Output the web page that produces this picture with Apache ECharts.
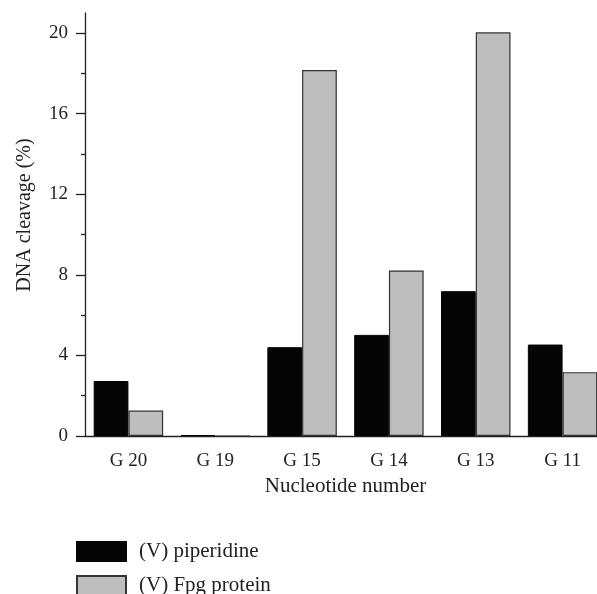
<!DOCTYPE html>
<html>
<head>
<meta charset="utf-8">
<script src="https://cdn.jsdelivr.net/npm/echarts@6/dist/echarts.min.js"></script>
<style>
  html, body { margin: 0; padding: 0; background: #fff; overflow: hidden; }
  /* the original figure is cropped on the right, so the canvas runs past the window */
  #main { width: 612px; height: 594px; }
</style>
</head>
<body>
<div id="main"></div>
<script>
// values
var categories = ['G 20', 'G 19', 'G 15', 'G 14', 'G 13', 'G 11'];
var piperidine = [2.73, 0.05, 4.41, 5.02, 7.19, 4.54];
var fpg = [1.26, 0, 18.17, 8.22, 20.04, 3.17];
var yTicks = [0, 4, 8, 12, 16, 20];
var yMinorTicks = [2, 6, 10, 14, 18];

var serif = '"Liberation Serif", "DejaVu Serif", serif';
var ink = '#222';

var myChart = echarts.init(document.getElementById('main'));

function legendAt(top, name) {
    return {
        orient: 'vertical',
        left: 76,
        top: top,
        padding: 0,
        itemWidth: 49,
        itemHeight: 19,
        icon: 'rect',
        textStyle: { fontFamily: serif, fontSize: 21, color: ink, padding: [0, 0, 0, 8], lineHeight: 19 },
        data: [name]
    };
}

var option = {
    animation: false,
    textStyle: { fontFamily: serif, color: ink },
    grid: { left: 85, width: 521, top: 13, height: 423 },
    legend: [
        legendAt(541, '(V) piperidine'),
        legendAt(575, '(V) Fpg protein')
    ],
    xAxis: [
        {
            type: 'category',
            data: categories,
            position: 'bottom',
            name: 'Nucleotide number',
            nameLocation: 'middle',
            nameGap: 40,
            nameTextStyle: { fontFamily: serif, fontSize: 21, color: ink },
            axisLine: { lineStyle: { color: ink, width: 1.3 } },
            axisTick: { alignWithLabel: true, length: 8, lineStyle: { color: ink, width: 1.3 } },
            axisLabel: { fontFamily: serif, fontSize: 19, color: ink, margin: 16 }
        },
        {
            type: 'category',
            data: categories,
            position: 'bottom',
            axisLine: { show: false },
            axisTick: { length: 4, lineStyle: { color: ink, width: 1.3 } },
            axisLabel: { show: false }
        }
    ],
    yAxis: [
        {
            type: 'value',
            min: 0,
            max: 21,
            name: 'DNA cleavage (%)',
            nameLocation: 'middle',
            nameGap: 50,
            nameTextStyle: { fontFamily: serif, fontSize: 20, color: ink, padding: [0, 0, 0, 19] },
            axisLine: { show: true, lineStyle: { color: ink, width: 1.3 } },
            axisTick: { show: true, length: 9, customValues: yTicks, lineStyle: { color: ink, width: 1.3 } },
            axisLabel: { fontFamily: serif, fontSize: 19, color: ink, margin: 17, customValues: yTicks },
            splitLine: { show: false }
        },
        {
            type: 'value',
            min: 0,
            max: 21,
            position: 'left',
            axisLine: { show: false },
            axisTick: { show: true, length: 4, customValues: yMinorTicks, lineStyle: { color: ink, width: 1.3 } },
            axisLabel: { show: false },
            splitLine: { show: false }
        }
    ],
    series: [
        {
            name: '(V) piperidine',
            type: 'bar',
            data: piperidine,
            barGap: '0%',
            barCategoryGap: '20%',
            itemStyle: { color: '#050505', borderColor: '#050505', borderWidth: 1 }
        },
        {
            name: '(V) Fpg protein',
            type: 'bar',
            data: fpg,
            barGap: '0%',
            barCategoryGap: '20%',
            itemStyle: { color: '#bebebe', borderColor: '#333', borderWidth: 1.2 }
        }
    ]
};

myChart.setOption(option);
</script>
</body>
</html>
